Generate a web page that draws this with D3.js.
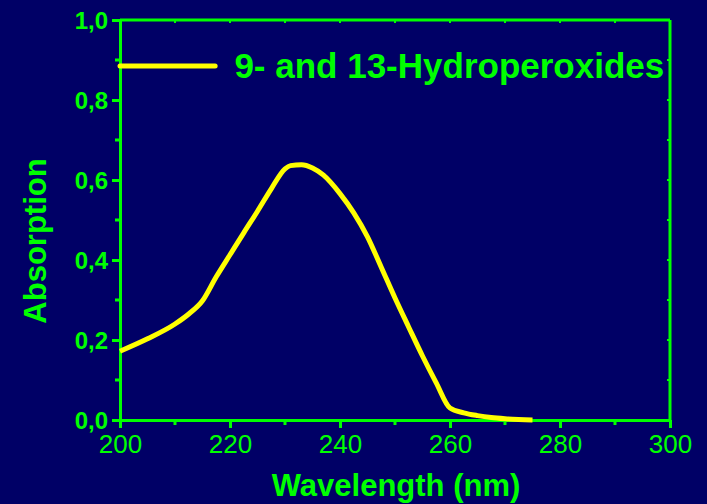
<!doctype html>
<html>
<head>
<meta charset="utf-8">
<title>Absorption</title>
<style>
  body { margin: 0; background: #000066; }
  svg { display: block; }
  text { font-family: "Liberation Sans", Arial, sans-serif; fill: #00ff00; }
</style>
<script src="https://cdn.jsdelivr.net/npm/d3@7"></script>
</head>
<body>
<svg width="707" height="504"></svg>
<script>
// spectrum
var wavelength = [200, 205, 210, 212.5, 215, 217.5, 220, 222.5, 225, 227.5, 230, 231, 233, 235, 237, 240, 242.5, 245, 247.5, 250, 252.5, 255, 257.5, 260, 262.5, 265, 267.5, 270, 275];
var absorption = [0.172, 0.203, 0.240, 0.265, 0.298, 0.358, 0.413, 0.468, 0.522, 0.578, 0.628, 0.636, 0.638, 0.630, 0.612, 0.566, 0.518, 0.458, 0.382, 0.305, 0.232, 0.160, 0.093, 0.030, 0.018, 0.011, 0.006, 0.003, 0.0];
var xTicks = [200, 220, 240, 260, 280, 300];
var yTicks = [0, 0.2, 0.4, 0.6, 0.8, 1.0];
var seriesName = "9- and 13-Hydroperoxides";

var green = "#00ff00", yellow = "#ffff00";
var svg = d3.select("svg"),
    margin = { top: 20, right: 37, bottom: 84, left: 120 },
    width = 707 - margin.left - margin.right,
    height = 504 - margin.top - margin.bottom,
    g = svg.append("g").attr("transform", "translate(" + margin.left + "," + margin.top + ")");

svg.insert("rect", ":first-child").attr("width", 707).attr("height", 504).attr("fill", "#000066");

var x = d3.scaleLinear().domain([200, 300]).range([0, width]);
var y = d3.scaleLinear().domain([0, 1]).range([height, 0]);

var xMinor = d3.range(210, 300, 20);
var yMinor = [0.1, 0.3, 0.5, 0.7, 0.9];

// minor ticks
g.selectAll(".xminor").data(xMinor).enter().append("line")
  .attr("x1", x).attr("x2", x).attr("y1", height).attr("y2", height + 5)
  .attr("stroke", green).attr("stroke-width", 3);
g.selectAll(".yminor").data(yMinor).enter().append("line")
  .attr("y1", y).attr("y2", y).attr("x1", 0).attr("x2", -5)
  .attr("stroke", green).attr("stroke-width", 3);
// ticks on top / right frame
g.selectAll(".xtop").data(d3.range(210, 300, 10)).enter().append("line")
  .attr("x1", x).attr("x2", x).attr("y1", 0).attr("y2", 3)
  .attr("stroke", green).attr("stroke-width", 2);
g.selectAll(".yright").data(d3.range(0.1, 1, 0.1)).enter().append("line")
  .attr("y1", y).attr("y2", y).attr("x1", width).attr("x2", width - 3)
  .attr("stroke", green).attr("stroke-width", 2);

// frame
g.append("line").attr("x1", 0).attr("x2", width).attr("y1", 0).attr("y2", 0).attr("stroke", green).attr("stroke-width", 3);
g.append("line").attr("x1", width).attr("x2", width).attr("y1", 0).attr("y2", height).attr("stroke", green).attr("stroke-width", 3);

var xAxis = g.append("g").attr("transform", "translate(0," + height + ")")
  .call(d3.axisBottom(x).tickValues(xTicks).tickSize(8).tickPadding(6).tickSizeOuter(0));
var yAxis = g.append("g")
  .call(d3.axisLeft(y).tickValues(yTicks).tickSize(8).tickPadding(4).tickSizeOuter(0)
    .tickFormat(function(d) { return d3.format(".1f")(d).replace(".", ","); }));

[xAxis, yAxis].forEach(function(a) {
  a.select(".domain").attr("stroke", green).attr("stroke-width", 3);
  a.selectAll(".tick line").attr("stroke", green).attr("stroke-width", 3);
  a.selectAll("text").attr("fill", green);
});
xAxis.selectAll("text").style("font-size", "26px").attr("dy", "0.72em");
yAxis.selectAll("text").style("font-size", "24px").style("font-weight", "bold").attr("dy", "0.36em");

// curve
var pts = wavelength.map(function(w, i) { return [w, absorption[i]]; });
g.append("path").datum(pts)
  .attr("fill", "none").attr("stroke", yellow).attr("stroke-width", 5)
  .attr("stroke-linejoin", "round")
  .attr("d", d3.line().x(function(d) { return x(d[0]); }).y(function(d) { return y(d[1]); }).curve(d3.curveMonotoneX));

// legend
g.append("line").attr("x1", 0).attr("x2", x(217.3)).attr("y1", y(0.885)).attr("y2", y(0.885))
  .attr("stroke", yellow).attr("stroke-width", 5).attr("stroke-linecap", "round");
g.append("text").attr("x", x(220.8)).attr("y", 58)
  .style("font-size", "35px").style("font-weight", "bold").text(seriesName);

// axis titles
svg.append("text").attr("x", margin.left + width / 2 + 1).attr("y", 496)
  .attr("text-anchor", "middle").style("font-size", "31px").style("font-weight", "bold")
  .text("Wavelength (nm)");
svg.append("text").attr("transform", "translate(46," + 241 + ") rotate(-90)")
  .attr("text-anchor", "middle").style("font-size", "31px").style("font-weight", "bold")
  .text("Absorption");
</script>
</body>
</html>
